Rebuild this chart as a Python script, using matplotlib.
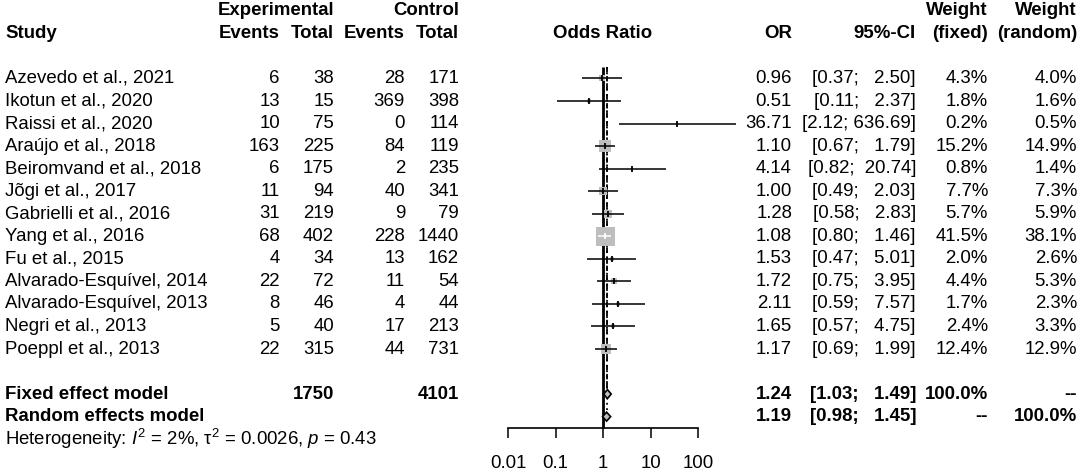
import numpy as np
import matplotlib.pyplot as plt

# Forest plot (meta-analysis, odds ratios)

plt.rcParams['font.family'] = ['Liberation Sans', 'DejaVu Sans']
plt.rcParams['mathtext.fontset'] = 'custom'
plt.rcParams['mathtext.rm'] = 'Liberation Sans'
plt.rcParams['mathtext.it'] = 'Liberation Sans:italic'

studies = ["Azevedo et al., 2021", "Ikotun et al., 2020", "Raissi et al., 2020",
           "Araújo et al., 2018", "Beiromvand et al., 2018", "Jõgi et al., 2017",
           "Gabrielli et al., 2016", "Yang et al., 2016", "Fu et al., 2015",
           "Alvarado-Esquível, 2014", "Alvarado-Esquível, 2013", "Negri et al., 2013",
           "Poeppl et al., 2013"]
exp_events = [6, 13, 10, 163, 6, 11, 31, 68, 4, 22, 8, 5, 22]
exp_total = [38, 15, 75, 225, 175, 94, 219, 402, 34, 72, 46, 40, 315]
ctrl_events = [28, 369, 0, 84, 2, 40, 9, 228, 13, 11, 4, 17, 44]
ctrl_total = [171, 398, 114, 119, 235, 341, 79, 1440, 162, 54, 44, 213, 731]
odds = [0.96, 0.51, 36.71, 1.10, 4.14, 1.00, 1.28, 1.08, 1.53, 1.72, 2.11, 1.65, 1.17]
ci_low = [0.37, 0.11, 2.12, 0.67, 0.82, 0.49, 0.58, 0.80, 0.47, 0.75, 0.59, 0.57, 0.69]
ci_high = [2.50, 2.37, 636.69, 1.79, 20.74, 2.03, 2.83, 1.46, 5.01, 3.95, 7.57, 4.75, 1.99]
w_fixed = [4.3, 1.8, 0.2, 15.2, 0.8, 7.7, 5.7, 41.5, 2.0, 4.4, 1.7, 2.4, 12.4]
w_random = [4.0, 1.6, 0.5, 14.9, 1.4, 7.3, 5.9, 38.1, 2.6, 5.3, 2.3, 3.3, 12.9]

fixed_or, fixed_lo, fixed_hi = 1.24, 1.03, 1.49
random_or, random_lo, random_hi = 1.19, 0.98, 1.45
exp_sum, ctrl_sum = 1750, 4101
ticks = [0.01, 0.1, 1, 10, 100]
tick_labels = ["0.01", "0.1", "1", "10", "100"]

W, H = 1084, 473
fig = plt.figure(figsize=(W / 100, H / 100), dpi=100)
top_r, bot_r = -3.48, 17.5

# text layer in pixel x / row y
tx = fig.add_axes([0, 0, 1, 1])
tx.set_xlim(0, W)
tx.set_ylim(bot_r, top_r)
tx.axis('off')

# forest panel
ax = fig.add_axes([508 / W, 0, 190 / W, 1])
ax.set_xscale('log')
ax.set_xlim(0.01, 100)
ax.set_ylim(bot_r, top_r)
ax.patch.set_visible(False)

fs = 13.4


def put(x, r, s, ha='right', bold=False):
    tx.text(x, r, s, ha=ha, va='center', fontsize=fs,
            fontweight='bold' if bold else 'normal')


def ci_str(lo, hi):
    return f"[{lo:4.2f}; {hi:>6.2f}]"


# headers
put(334, -3, "Experimental", bold=True)
put(459, -3, "Control", bold=True)
put(5, -2, "Study", ha='left', bold=True)
put(280, -2, "Events", bold=True)
put(334, -2, "Total", bold=True)
put(405, -2, "Events", bold=True)
put(459, -2, "Total", bold=True)
put(603, -2, "Odds Ratio", ha='center', bold=True)
put(792, -2, "OR", bold=True)
put(916, -2, "95%-CI", bold=True)
put(988, -3, "Weight", bold=True)
put(988, -2, "(fixed)", bold=True)
put(1077, -3, "Weight", bold=True)
put(1077, -2, "(random)", bold=True)

# study rows
for i, name in enumerate(studies):
    put(5, i, name, ha='left')
    put(280, i, str(exp_events[i]))
    put(334, i, str(exp_total[i]))
    put(405, i, str(ctrl_events[i]))
    put(459, i, str(ctrl_total[i]))
    put(792, i, f"{odds[i]:.2f}")
    put(916, i, ci_str(ci_low[i], ci_high[i]))
    put(988, i, f"{w_fixed[i]:.1f}%")
    put(1077, i, f"{w_random[i]:.1f}%")

# pooled rows
rf, rr = len(studies) + 1, len(studies) + 2
put(5, rf, "Fixed effect model", ha='left', bold=True)
put(334, rf, str(exp_sum), bold=True)
put(459, rf, str(ctrl_sum), bold=True)
put(792, rf, f"{fixed_or:.2f}", bold=True)
put(916, rf, ci_str(fixed_lo, fixed_hi), bold=True)
put(988, rf, "100.0%", bold=True)
put(1077, rf, "--", bold=True)
put(5, rr, "Random effects model", ha='left', bold=True)
put(792, rr, f"{random_or:.2f}", bold=True)
put(916, rr, ci_str(random_lo, random_hi), bold=True)
put(988, rr, "--", bold=True)
put(1077, rr, "100.0%", bold=True)
put(5, rr + 1, r"Heterogeneity: $I^2$ = 2%, τ$^2$ = 0.0026, $p$ = 0.43", ha='left')

# reference lines
axis_r = rr + 0.5
ax.vlines(1, -0.5, axis_r, color='black', lw=2)
ax.vlines(fixed_or, -0.5, rf, color='black', lw=1.3, linestyles=(0, (3, 2)))
ax.vlines(random_or, -0.5, rr, color='black', lw=1.3, linestyles=(0, (1, 2)))

# squares and CIs
max_side = 19.0  # px for the largest weight
to_px = ax.transData
for i in range(len(studies)):
    side = max_side * np.sqrt(w_fixed[i] / max(w_fixed))
    ax.plot(odds[i], i, marker='s', ms=side * 0.72, mew=0, color='#BEBEBE',
            zorder=3)
    x0 = to_px.transform((ci_low[i], i))[0]
    x1 = to_px.transform((ci_high[i], i))[0]
    xc = to_px.transform((odds[i], i))[0]
    inside = (xc - x0) < side / 2 and (x1 - xc) < side / 2
    col = 'white' if inside else 'black'
    ax.plot([ci_low[i], ci_high[i]], [i, i], color=col, lw=1.1, zorder=4,
            clip_on=False, solid_capstyle='butt')
    ax.plot(odds[i], i, marker='|', ms=5, mew=1.3, color=col, zorder=5)

# diamonds
for r, est, lo, hi in [(rf, fixed_or, fixed_lo, fixed_hi),
                       (rr, random_or, random_lo, random_hi)]:
    ax.fill([lo, est, hi, est], [r, r - 0.2, r, r + 0.2], facecolor='#BEBEBE',
            edgecolor='black', lw=1.2, zorder=4)

# x axis
for s in ['top', 'left', 'right']:
    ax.spines[s].set_visible(False)
ax.spines['bottom'].set_position(('data', axis_r))
ax.spines['bottom'].set_bounds(0.01, 100)
ax.spines['bottom'].set_linewidth(1.2)
ax.set_xticks(ticks)
ax.set_xticklabels(tick_labels, fontsize=fs)
ax.xaxis.set_minor_locator(plt.NullLocator())
ax.tick_params(axis='x', direction='out', length=7.2, width=1.1, pad=12)
ax.set_yticks([])

fig.savefig("out.png", dpi=100)
